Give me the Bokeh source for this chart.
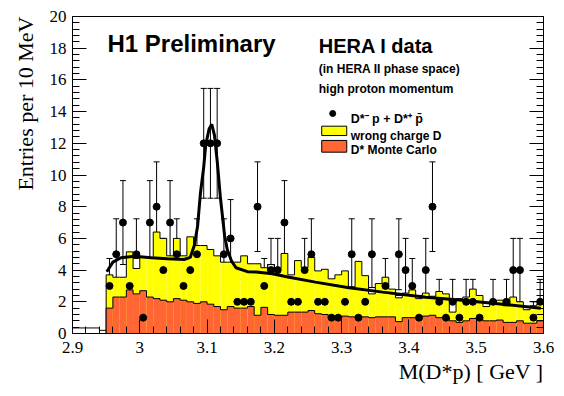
import numpy as np
from bokeh.plotting import figure
from bokeh.models import (Range1d, LinearAxis, FixedTicker, CustomJSTickFormatter,
                          Label, Whisker, TeeHead, ColumnDataSource, Title)
from bokeh.embed import file_html
from bokeh.resources import INLINE

# ---------------- data ----------------
bin_start = 2.95
bin_width = 0.01
# data: D*- p + D*+ pbar (entries per 10 MeV)
counts = [3, 5, 7, 3, 5, 1, 7, 8, 4, 7, 5, 3, 4, 5, 12, 12, 12, 5, 6, 2,
          2, 2, 8, 3, 4, 4, 7, 2, 2, 4, 5, 2, 2, 1, 1, 2, 5, 1, 2, 5,
          0, 3, 0, 5, 4, 3, 1, 4, 8, 2, 1, 2, 1, 2, 2, 1, 0, 2, 0, 2,
          4, 4, 0, 1, 2]
# wrong charge D (yellow)
wrong_charge = [3.7, 3.55, 3.55, 5.15, 4.75, 4.8, 4.8, 6.4, 6.0, 4.9,
                6.0, 4.9, 6.1, 5.55, 5.55, 5.3, 4.9, 4.5, 4.5, 4.5,
                4.9, 4.4, 4.4, 4.15, 4.35, 4.1, 5.05, 3.7, 4.6, 4.15,
                4.8, 3.95, 4.05, 3.45, 3.7, 3.95, 2.95, 4.55, 3.65, 2.9,
                3.15, 3.55, 2.8, 2.4, 2.55, 2.75, 2.4, 2.55, 2.35, 2.65,
                2.5, 1.9, 2.2, 2.3, 2.8, 2.4, 1.7, 2.0, 2.1, 1.75,
                2.3, 2.0, 1.7, 1.75, 1.85]
# bins where the yellow fill stops below the outline
gap_bins = [4, 24, 39, 43, 46, 51, 62]
gap_low = [4.1, 4.0, 2.5, 2.25, 2.2, 1.35, 1.5]
# D* Monte Carlo (orange)
mc = [1.6, 2.3, 2.3, 2.75, 2.5, 2.7, 2.3, 2.2, 2.1, 2.0,
      2.2, 2.1, 2.0, 1.9, 2.0, 1.85, 1.7, 1.5, 1.7, 1.6,
      1.6, 1.7, 1.15, 1.65, 1.2, 1.15, 1.15, 1.35, 1.35, 1.35,
      1.45, 1.25, 1.2, 1.0, 1.0, 1.1, 1.05, 1.05, 1.05, 1.0,
      1.05, 1.05, 1.05, 0.75, 1.0, 1.0, 1.0, 1.1, 1.15, 1.0,
      1.0, 0.8, 0.7, 0.8, 0.95, 0.9, 0.8, 0.8, 0.85, 0.7,
      0.7, 0.8, 0.65, 0.65, 0.8]
mc_low_start = 2.90
mc_low = [0.35, 0.35, 0.35, 0.35, 0.2]
# fit curve
fit_x = [2.951, 2.960, 2.972, 2.992, 3.017, 3.041, 3.066, 3.075, 3.081, 3.086,
         3.090, 3.095, 3.098, 3.103, 3.107, 3.111, 3.115, 3.120, 3.126, 3.130,
         3.136, 3.143, 3.160, 3.173, 3.197, 3.222, 3.261, 3.311, 3.361, 3.425,
         3.475, 3.524, 3.596]
fit_y = [3.9, 4.5, 4.78, 4.88, 4.78, 4.71, 4.67, 4.8, 5.55, 6.8,
         8.8, 10.5, 11.9, 12.9, 13.2, 12.5, 10.9, 8.5, 6.2, 5.3,
         4.6, 4.15, 3.9, 3.88, 3.77, 3.55, 3.24, 2.88, 2.61, 2.29,
         2.12, 1.91, 1.6]
x_ticks = [2.9, 3.0, 3.1, 3.2, 3.3, 3.4, 3.5, 3.6]
y_ticks = [0, 2, 4, 6, 8, 10, 12, 14, 16, 18, 20]

# ---------------- derived ----------------
n = len(counts)
lefts = [bin_start + i * bin_width for i in range(n)]
rights = [l + bin_width for l in lefts]
centers = [l + bin_width / 2 for l in lefts]


def step_xy(start, vals):
    xs, ys = [start], [0]
    for i, v in enumerate(vals):
        xs += [start + i * bin_width, start + (i + 1) * bin_width]
        ys += [v, v]
    xs.append(start + len(vals) * bin_width)
    ys.append(0)
    return xs, ys


YELLOW = "#FFFF00"
RED = "#FF6633"
SERIF = "Liberation Serif"
SANS = "Liberation Sans"

p = figure(width=564, height=396, output_backend="svg", toolbar_location=None,
           x_range=Range1d(2.9, 3.6), y_range=Range1d(0, 20),
           min_border_left=72, min_border_right=21, min_border_top=16,
           min_border_bottom=63, background_fill_color="white",
           border_fill_color="white")
p.grid.visible = False
p.outline_line_color = "black"
p.outline_line_width = 1

# yellow histogram
p.quad(left=lefts, right=rights, bottom=0, top=wrong_charge,
       fill_color=YELLOW, line_color=None)
gap_src = ColumnDataSource(dict(
    left=[lefts[b] for b in gap_bins], right=[rights[b] for b in gap_bins],
    bottom=gap_low, top=[wrong_charge[b] for b in gap_bins]))
p.quad(left="left", right="right", bottom="bottom", top="top", source=gap_src,
       fill_color="white", line_color="black", line_width=1)
sx, sy = step_xy(bin_start, wrong_charge)
p.line(sx, sy, line_color="black", line_width=1)

# red histogram
p.quad(left=lefts, right=rights, bottom=0, top=mc, fill_color=RED, line_color=None)
sx, sy = step_xy(bin_start, mc)
p.line(sx, sy, line_color="black", line_width=1)
lx, ly = step_xy(mc_low_start, mc_low)
p.line(lx[:-1], ly[:-1], line_color="black", line_width=1)

# fit
p.line(fit_x, fit_y, line_color="black", line_width=3)

# data points with Poisson errors
pc = [c for c in counts if c > 0]
px = [centers[i] for i, c in enumerate(counts) if c > 0]
err = np.sqrt(pc)
src = ColumnDataSource(dict(x=px, y=pc, lo=np.array(pc) - err, hi=np.array(pc) + err))
p.add_layout(Whisker(source=src, base="x", lower="lo", upper="hi",
                     line_color="black", line_width=1,
                     lower_head=TeeHead(size=6, line_color="black", line_width=1),
                     upper_head=TeeHead(size=6, line_color="black", line_width=1)))
p.scatter("x", "y", source=src, marker="circle", size=7, fill_color="black",
          line_color="black")

# axes
fmt = CustomJSTickFormatter(code="return String(Number(tick.toFixed(2)));")
p.xaxis.ticker = FixedTicker(ticks=x_ticks,
                             minor_ticks=[round(2.9 + 0.02 * i, 3) for i in range(36)])
p.xaxis.formatter = fmt
p.yaxis.ticker = FixedTicker(ticks=y_ticks, minor_ticks=[0.4 * i for i in range(51)])
xa, ya = p.xaxis[0], p.yaxis[0]
for ax in (xa, ya):
    ax.major_tick_in = 14
    ax.major_tick_out = 0
    ax.minor_tick_in = 7
    ax.minor_tick_out = 0
    ax.axis_line_color = "black"
    ax.major_tick_line_color = "black"
    ax.minor_tick_line_color = "black"
    ax.major_label_text_font = SERIF
    ax.major_label_text_font_size = "17px"
    ax.major_label_text_color = "black"
xa.major_label_standoff = 8
ya.major_label_standoff = 6

ry = LinearAxis(ticker=FixedTicker(ticks=y_ticks, minor_ticks=[0.4 * i for i in range(51)]),
                major_tick_in=14, major_tick_out=0, minor_tick_in=7, minor_tick_out=0,
                major_label_text_color=None, major_label_standoff=0,
                axis_line_color="black")
p.add_layout(ry, "right")

# axis titles (right / top aligned as in the original)
p.add_layout(Title(text="M(D*p) [ GeV ]", align="right", text_font=SERIF,
                   text_font_size="22px", text_font_style="normal",
                   text_color="black", standoff=3), "below")
p.add_layout(Title(text="Entries per 10 MeV", align="right", text_font=SERIF,
                   text_font_size="22px", text_font_style="normal",
                   text_color="black", standoff=17), "left")


# header texts
def lab(x, y, t, size, bold=True):
    p.add_layout(Label(x=x, y=y, text=t, text_font=SANS,
                       text_font_size=size, text_font_style="bold" if bold else "normal",
                       text_baseline="alphabetic", text_align="left", text_color="black"))


lab(2.952, 18.3, "H1 Preliminary", "24px")
lab(3.266, 18.17, "HERA I data", "20px")
lab(3.266, 16.66, "(in HERA II phase space)", "12px")
lab(3.266, 15.43, "high proton momentum", "12px")

# legend
p.scatter([3.2867], [13.88], marker="circle", size=6, color="black")
lab(3.3135, 13.56, "D*\u207b p + D*\u207a p\u0304", "12.5px")
p.quad(left=[3.2704], right=[3.3076], bottom=[12.49], top=[13.08],
       fill_color=YELLOW, line_color="black")
lab(3.3135, 12.49, "wrong charge D", "12px")
p.quad(left=[3.2704], right=[3.3076], bottom=[11.44], top=[12.18],
       fill_color=RED, line_color="black")
lab(3.3135, 11.55, "D* Monte Carlo", "12px")

open("out.html", "w").write(file_html(p, INLINE))
